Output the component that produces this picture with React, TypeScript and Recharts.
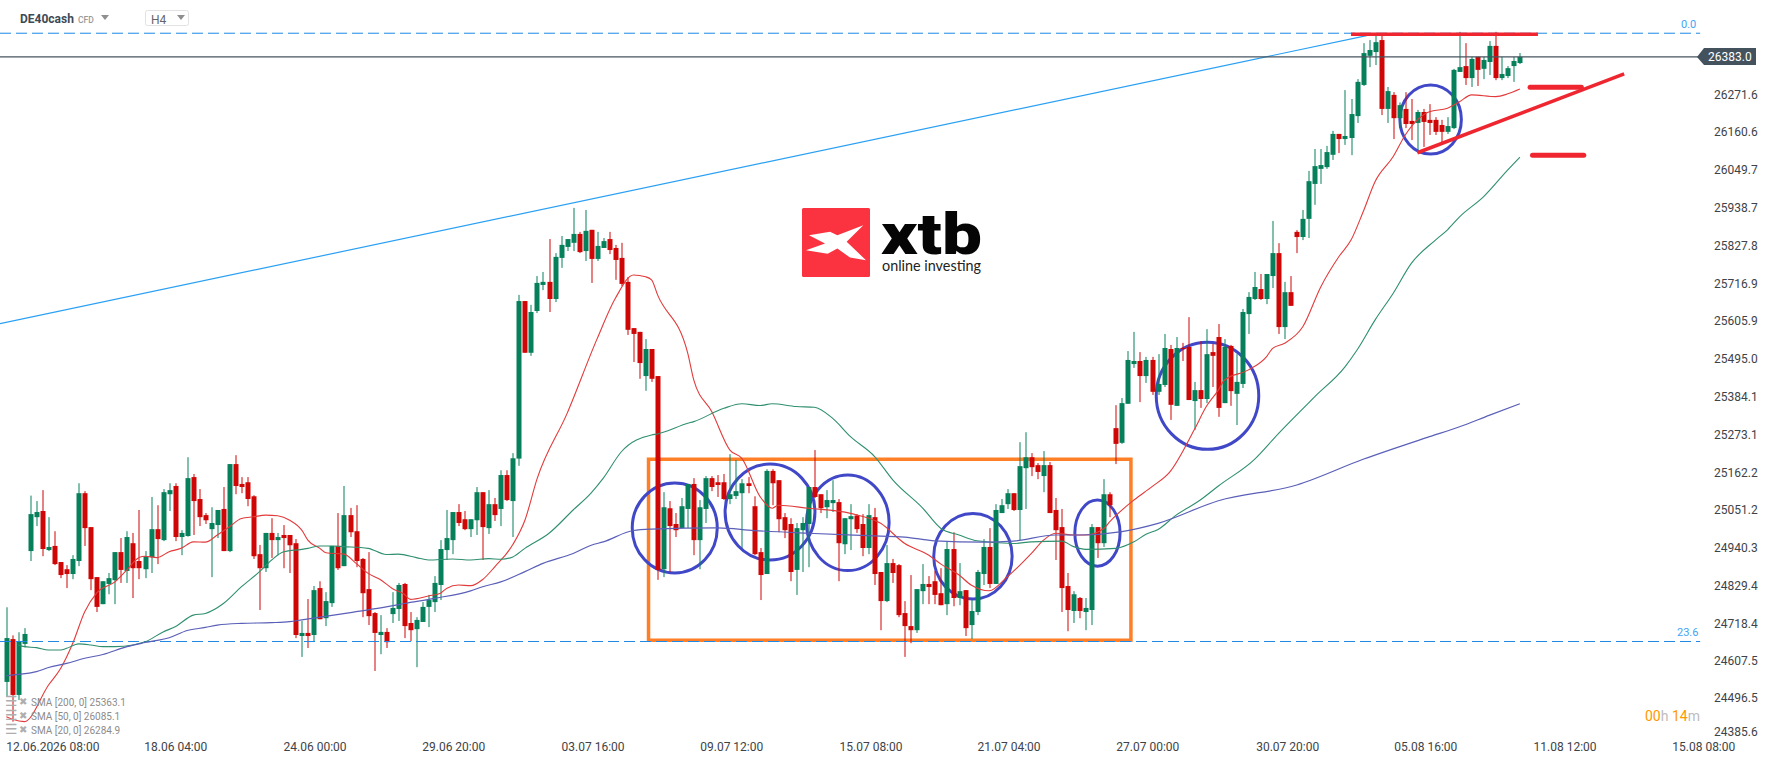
import {
  ComposedChart,
  Bar,
  Line,
  XAxis,
  YAxis,
  ReferenceLine,
  ReferenceArea,
} from 'recharts'

const opens = [
  24558,24683,24520,24669,24940,25039,25057,24943,24955,24908,
  24887,24873,24911,25109,25010,24864,24785,24844,24855,24937,
  24882,24963,24911,24887,24922,25004,24972,25106,25130,24981,
  24984,25156,25092,25045,25004,25016,25063,24940,25194,25136,
  25141,25100,24931,24890,24993,24972,24987,24987,24963,24692,
  24701,24695,24832,24744,24788,24955,24896,25045,24998,24917,
  24829,24759,24695,24704,24756,24771,24844,24730,24712,24733,
  24777,24791,24841,24943,24972,25054,25033,25004,25030,25112,
  25007,25077,25063,25162,25086,25210,25670,25519,25641,25717,
  25726,25676,25796,25828,25840,25866,25816,25878,25793,25825,
  25851,25825,25796,25726,25591,25580,25451,25530,25451,24887,
  25065,25019,25007,25063,25136,24972,25063,25153,25141,25141,
  25092,25101,25109,25138,25071,24937,24873,25174,25147,25039,
  25019,24885,25001,25019,25127,25106,25068,25080,25083,24960,
  25033,25044,25019,24949,25039,24879,24794,24905,24899,24759,
  24721,24709,24823,24844,24852,24817,24785,24946,24803,24826,
  24724,24762,24873,24952,24844,25051,25077,25109,25060,25182,
  25214,25191,25159,25191,25060,25010,24838,24765,24803,24762,
  24768,25010,24963,25106,25299,25256,25370,25486,25495,25451,
  25498,25405,25425,25530,25364,25533,25536,25378,25410,25384,
  25521,25565,25372,25539,25399,25428,25632,25676,25705,25676,
  25743,25810,25594,25696,25872,25857,25910,26012,26056,26061,
  26097,26158,26143,26146,26210,26301,26386,26397,26432,26231,
  26272,26204,26231,26196,26190,26222,26199,26199,26184,26164,
  26175,26339,26356,26321,26383,26348,26368,26415,26321,26327,26356,26365,
]

const highs = [
  24776,24694,24703,24715,25102,25086,25118,25039,24998,24908,
  24899,24928,25138,25115,25010,24864,24852,24876,24937,24978,
  24998,24993,25060,24940,25098,25074,25121,25138,25138,25001,
  25214,25165,25121,25051,25068,25060,25127,25194,25220,25156,
  25156,25103,24958,24993,25036,24993,25016,24987,24975,24736,
  24800,24838,24852,24820,24955,25051,25130,25066,25074,24920,
  24937,24762,24753,24715,24820,24847,24847,24762,24747,24791,
  24812,24867,24972,25060,25054,25077,25057,25033,25127,25112,
  25118,25095,25176,25176,25226,25688,25670,25659,25743,25755,
  25851,25810,25860,25851,25942,25872,25936,25878,25872,25854,
  25872,25834,25840,25740,25591,25580,25559,25530,25451,25112,
  25086,25051,25095,25136,25153,25089,25159,25159,25162,25165,
  25223,25206,25150,25156,25100,24949,25179,25179,25147,25051,
  25036,25022,25039,25127,25235,25106,25118,25147,25092,25036,
  25077,25048,25048,25077,25066,24879,24958,24917,24902,24794,
  24870,24829,24902,24867,24882,24890,24969,24995,24905,24826,
  24797,24885,24975,25007,25077,25092,25121,25109,25258,25287,
  25226,25197,25232,25200,25095,25063,24876,24823,24806,24803,
  25019,25010,25150,25112,25366,25387,25524,25580,25521,25507,
  25507,25515,25574,25542,25565,25548,25623,25434,25553,25588,
  25545,25603,25559,25542,25515,25647,25696,25755,25749,25749,
  25904,25839,25726,25743,25877,25936,26050,26114,26114,26123,
  26167,26158,26286,26260,26318,26423,26432,26444,26447,26295,
  26280,26250,26280,26260,26228,26231,26245,26207,26199,26207,
  26348,26456,26423,26383,26383,26383,26429,26456,26383,26356,26383,26394,
]

const lows = [
  24515,24442,24505,24659,24911,25013,24925,24940,24899,24861,
  24832,24858,24896,24955,24826,24762,24785,24814,24785,24847,
  24847,24803,24858,24861,24876,24902,24969,25057,24969,24928,
  24982,24987,25013,25019,24864,24978,24940,24937,25106,25109,
  25071,24917,24768,24879,24920,24928,24890,24876,24686,24631,
  24657,24677,24741,24721,24777,24885,24896,24981,24893,24747,
  24724,24590,24639,24657,24730,24736,24686,24677,24601,24733,
  24718,24762,24797,24914,24931,25013,25001,24981,24987,24914,
  24990,25028,25013,25086,24981,25189,25519,25510,25635,25702,
  25638,25667,25767,25816,25816,25810,25787,25723,25787,25825,
  25807,25732,25714,25571,25492,25443,25408,25434,24856,24864,
  24879,24981,25007,25007,24928,24887,25022,25115,25098,25089,
  25077,25092,24949,25109,24928,24797,24873,25074,24995,24978,
  24852,24812,24879,24893,25095,25051,25036,25054,24852,24931,
  24943,24993,24925,24931,24841,24709,24791,24847,24747,24631,
  24671,24701,24785,24785,24785,24782,24753,24779,24782,24692,
  24683,24753,24841,24832,24844,25051,25063,25057,24972,25063,
  25159,25150,25112,25051,24914,24762,24706,24730,24744,24709,
  24724,24920,24952,25039,25194,25253,25370,25475,25375,25431,
  25396,25396,25419,25323,25364,25495,25381,25294,25358,25372,
  25419,25332,25372,25364,25308,25416,25574,25673,25673,25661,
  25708,25574,25559,25656,25810,25848,25854,25951,26012,26056,
  26082,26102,26126,26096,26190,26298,26353,26359,26213,26190,
  26143,26175,26175,26140,26111,26120,26155,26155,26134,26158,
  26172,26339,26301,26295,26298,26318,26330,26315,26315,26321,26310,26362,
]

const closes = [
  24686,24520,24676,24698,25048,25054,24946,24952,24902,24870,
  24873,24917,25109,25007,24858,24777,24852,24861,24937,24885,
  24981,24890,24890,24925,25004,24975,25112,25118,24981,24993,
  25153,25086,25039,25030,25022,25060,24940,25194,25130,25127,
  25092,24925,24890,24993,24972,24981,24978,24957,24695,24701,
  24692,24826,24741,24794,24955,24890,25045,24995,24911,24817,
  24750,24701,24704,24674,24774,24841,24721,24709,24739,24777,
  24797,24847,24946,24978,25054,25022,25004,25033,25112,25010,
  25077,25045,25162,25089,25211,25670,25519,25638,25723,25726,
  25676,25799,25834,25851,25866,25813,25875,25793,25831,25845,
  25819,25790,25720,25586,25574,25489,25530,25443,24885,25068,
  25013,25001,25071,25136,24972,25068,25153,25127,25133,25092,
  25106,25115,25138,25130,24931,24870,25174,25138,25033,25001,
  24879,25007,25022,25127,25098,25065,25089,25089,24963,25036,
  25042,25004,24949,25045,24873,24794,24905,24876,24753,24721,
  24709,24829,24844,24835,24812,24782,24946,24803,24823,24715,
  24765,24879,24952,24844,25060,25074,25109,25060,25188,25214,
  25185,25171,25191,25051,25001,24832,24768,24814,24765,24774,
  25010,24963,25106,25074,25253,25372,25498,25495,25451,25498,
  25405,25428,25533,25367,25533,25530,25381,25410,25384,25515,
  25510,25358,25536,25407,25434,25638,25682,25711,25676,25749,
  25810,25594,25696,25656,25857,25910,26020,26064,26067,26105,
  26158,26143,26152,26216,26310,26394,26403,26426,26231,26283,
  26204,26242,26187,26187,26222,26193,26190,26164,26164,26181,
  26345,26353,26321,26377,26345,26374,26415,26321,26333,26350,26371,26383,
]

const sma20Bars = [0,1,3,7,9,11,13,15,18,20,22,23,25,27,29,31,33,35,37,39,41,43,45,47,49,50,52,53,56,58,60,62,64,66,67,70,72,73,75,77,79,81,84,86,88,93,98,101,104,106,107,108,113,114,117,120,122,125,127,128,133,140,145,149,153,155,158,160,163,166,170,172,174,177,179,182,183,187,190,193,197,199,201,202,206,209,210,212,215,218,221,223,225,227,230,232,234,236,239,241,243,247,249,251]
const sma20Values = [24456,24449,24442,24549,24597,24670,24763,24818,24850,24885,24921,24925,24921,24938,24948,24967,24966,24987,25011,25035,25040,25045,25043,25030,25001,24972,24948,24935,24931,24904,24875,24857,24831,24814,24799,24809,24817,24831,24841,24839,24857,24894,24959,25030,25150,25342,25561,25678,25746,25741,25732,25688,25518,25440,25347,25235,25210,25099,25065,25074,25065,25050,25021,24962,24928,24902,24870,24841,24824,24865,24933,24972,24992,24987,24987,25006,25026,25089,25128,25172,25294,25362,25410,25439,25469,25508,25532,25547,25595,25712,25800,25848,25930,26019,26092,26155,26199,26223,26233,26252,26272,26267,26275,26289]

const sma50Bars = [2,3,5,7,9,10,12,14,16,18,21,23,26,28,31,33,36,39,42,44,46,49,50,52,54,56,60,63,65,68,70,74,77,80,82,84,86,90,94,97,99,102,107,108,113,114,119,122,125,127,131,134,137,140,144,147,152,155,158,161,167,170,175,177,179,184,187,189,191,194,198,201,207,211,217,222,224,227,230,233,237,239,241,245,249,251]
const sma50Values = [24666,24661,24658,24651,24651,24656,24669,24666,24661,24661,24666,24675,24704,24719,24753,24758,24787,24836,24880,24914,24938,24945,24948,24955,24955,24953,24948,24930,24931,24921,24914,24917,24914,24918,24916,24923,24948,24992,25060,25110,25153,25230,25279,25282,25313,25318,25357,25370,25365,25370,25362,25360,25328,25274,25216,25148,25065,25006,24987,24970,24962,24967,24969,24953,24945,24948,24967,24989,25003,25045,25089,25130,25208,25284,25391,25478,25527,25615,25693,25780,25848,25878,25916,25975,26053,26090]

const sma200Bars = [0,2,5,7,10,13,16,20,23,27,30,33,35,39,44,47,49,54,58,63,66,71,77,79,82,86,89,94,97,99,104,107,118,124,133,143,149,154,162,167,174,178,185,191,201,214,225,236,241,246,251]
const sma200Values = [24576,24580,24588,24600,24612,24627,24638,24661,24673,24687,24708,24717,24724,24729,24731,24734,24739,24752,24763,24777,24787,24802,24824,24836,24850,24880,24904,24933,24957,24967,25000,25004,25008,25000,24992,24985,24981,24970,24966,24969,24987,24987,24997,25021,25087,25133,25208,25274,25303,25337,25370]

const xTickBars = [0, 28.1, 51.2, 74.2, 97.3, 120.3, 143.4, 166.3, 189.3, 212.5, 235.4, 258.5, 281.5]
const xTickLabels = ['12.06.2026 08:00','18.06 04:00','24.06 00:00','29.06 20:00','03.07 16:00','09.07 12:00','15.07 08:00','21.07 04:00','27.07 00:00','30.07 20:00','05.08 16:00','11.08 12:00','15.08 08:00']

const yTickValues = [26272,26164,26053,25942,25831,25720,25612,25501,25390,25279,25168,25060,24949,24838,24727,24619,24511,24412]
const yTickLabels = ['26271.6','26160.6','26049.7','25938.7','25827.8','25716.9','25605.9','25495.0','25384.1','25273.1','25162.2','25051.2','24940.3','24829.4','24718.4','24607.5','24496.5','24385.6']

// circles drawn on the chart: first bar, last bar, top price, bottom price
const circles = [
  [103.8, 117.9, 25139, 24876],
  [119.2, 134.1, 25194, 24914],
  [132.7, 146.4, 25162, 24883],
  [153.8, 166.8, 25050, 24800],
  [177.2, 184.7, 25089, 24896],
  [190.7, 207.7, 25550, 25237],
  [231.1, 241.3, 26301, 26099],
]

const legendRows = ['SMA [200, 0] 25363.1', 'SMA [50, 0] 26085.1', 'SMA [20, 0] 26284.9']

const GREEN = '#06805a'
const RED = '#cf0606'
const X_MIN = -1.05
const X_MAX = 281.87

const data = opens.map((open, i) => ({
  i,
  open,
  high: highs[i],
  low: lows[i],
  close: closes[i],
  sma20: sma20Bars.includes(i) ? sma20Values[sma20Bars.indexOf(i)] : null,
  sma50: sma50Bars.includes(i) ? sma50Values[sma50Bars.indexOf(i)] : null,
  sma200: sma200Bars.includes(i) ? sma200Values[sma200Bars.indexOf(i)] : null,
}))

function Candle(props: any) {
  const { x, y, width, height, payload } = props
  const { open, high, low, close } = payload
  const color = close >= open ? GREEN : RED
  const perUnit = Math.abs(height) / (high - low)
  const top = y + (high - Math.max(open, close)) * perUnit
  const bodyH = Math.max(Math.abs(open - close) * perUnit, 1)
  const mid = Math.round(x + width / 2)
  return (
    <g>
      <rect x={mid - 0.5} y={y} width={1} height={Math.abs(height)} fill={color} />
      <rect x={mid - 2.5} y={top} width={5} height={bodyH} fill={color} />
    </g>
  )
}

function XTick(props: any) {
  const { x, y, payload, index } = props
  return (
    <text x={x} y={y + 8} fontSize={12} fill="#3d4348" textAnchor={index === 0 ? 'start' : 'middle'}>
      {xTickLabels[xTickBars.indexOf(payload.value)]}
    </text>
  )
}

function Overlay() {
  return (
    <svg
      width={1768}
      height={761}
      style={{ position: 'absolute', left: 0, top: 0, pointerEvents: 'none' }}
      fontFamily="Roboto"
    >
      <text x={20} y={23} fontSize={12} fontWeight={700} fill="#3c4a56">DE40cash</text>
      <text x={78} y={22.5} fontSize={8.5} fontWeight={500} fill="#9a9a9a">CFD</text>
      <polygon points="101,15 109,15 105,20" fill="#8f8f8f" />
      <rect x={145.5} y={10.5} width={43} height={15} rx={2} fill="#fff" stroke="#e2e2e2" />
      <text x={151} y={24} fontSize={12} fill="#666">H4</text>
      <polygon points="177,15 185,15 181,20" fill="#8f8f8f" />

      <text x={1681} y={28} fontSize={11} fill="#42a5f5">0.0</text>
      <text x={1677} y={636} fontSize={11} fill="#42a5f5">23.6</text>

      <polygon points="1697,57 1704,48 1756,48 1756,65 1704,65" fill="#44525e" />
      <text x={1708} y={61} fontSize={12} fill="#fff">26383.0</text>

      {legendRows.map((row, k) => (
        <g key={row} fill="#8c8c8c">
          <text x={5} y={706 + k * 14} fontSize={14} fontFamily="DejaVu Sans" fill="#aeaeae">☰</text>
          <text x={19} y={705 + k * 14} fontSize={10} fontFamily="DejaVu Sans" fill="#aeaeae">✖</text>
          <text x={31} y={705.5 + k * 14} fontSize={10}>{row}</text>
        </g>
      ))}

      <text x={1645} y={721} fontSize={14}>
        <tspan fill="#ff9800">00</tspan>
        <tspan fill="#bdbdbd">h </tspan>
        <tspan fill="#ff9800">14</tspan>
        <tspan fill="#bdbdbd">m</tspan>
      </text>

      <rect x={802} y={208} width={68} height={69} rx={1.5} fill="#fb3340" />
      <svg x={802} y={208} width={68} height={69} viewBox="906 84 204 206">
        <polygon
          points="927,165 990,155 1012,165 1090,135 1040,185 1098,240 1050,232 1012,205 983,221 918,210 975,190"
          fill="#fff"
        />
      </svg>
      <text x={881} y={254} fontSize={57} fontWeight={900} fill="#050505" textLength={101} lengthAdjust="spacingAndGlyphs">xtb</text>
      <text x={882} y={271} fontSize={14.5} fontFamily="Lato" fill="#222" textLength={99} lengthAdjust="spacingAndGlyphs">online investing</text>
    </svg>
  )
}

export default function App() {
  return (
    <div style={{ position: 'absolute', left: 0, top: 0, width: 1768, height: 761, background: '#fff', fontFamily: 'Roboto' }}>
      <ComposedChart width={1768} height={761} data={data} margin={{ top: 0, right: 0, bottom: 0, left: 0 }}>
        <XAxis
          dataKey="i"
          type="number"
          domain={[X_MIN, X_MAX]}
          ticks={xTickBars}
          interval={0}
          tick={<XTick />}
          tickLine={false}
          axisLine={false}
          height={26}
          allowDataOverflow
        />
        <YAxis
          orientation="right"
          type="number"
          domain={[24403, 26549]}
          ticks={yTickValues}
          interval={0}
          tickFormatter={(v) => yTickLabels[yTickValues.indexOf(v)]}
          tick={{ fill: '#3d4348', fontSize: 12 }}
          tickLine={false}
          axisLine={false}
          tickMargin={2}
          width={62}
          allowDataOverflow
        />
        <ReferenceLine segment={[{ x: X_MIN, y: 26452 }, { x: 280.9, y: 26452 }]} stroke="#1e88e5" strokeWidth={1} strokeDasharray="11 5" />
        <ReferenceLine segment={[{ x: X_MIN, y: 24676 }, { x: 280.9, y: 24676 }]} stroke="#1e88e5" strokeWidth={1} strokeDasharray="11 5" />
        <ReferenceLine segment={[{ x: X_MIN, y: 25604 }, { x: 225.6, y: 26445 }]} stroke="#2aa0f5" strokeWidth={1.2} />
        <ReferenceLine segment={[{ x: X_MIN, y: 26383 }, { x: 280.9, y: 26383 }]} stroke="#46545f" strokeWidth={1.2} />
        <Bar dataKey={(d: any) => [d.low, d.high]} shape={<Candle />} barSize={5} isAnimationActive={false} />
        <Line type="monotone" dataKey="sma20" stroke="#e23b3b" strokeWidth={1.1} dot={false} activeDot={false} connectNulls isAnimationActive={false} />
        <Line type="monotone" dataKey="sma50" stroke="#2f8f6f" strokeWidth={1.1} dot={false} activeDot={false} connectNulls isAnimationActive={false} />
        <Line type="monotone" dataKey="sma200" stroke="#5a5fb8" strokeWidth={1.2} dot={false} activeDot={false} connectNulls isAnimationActive={false} />
        <ReferenceArea x1={106.5} x2={186.5} y1={24679.5} y2={25208} fill="none" stroke="#ff7f27" strokeWidth={3.5} ifOverflow="visible" />
        {circles.map(([x1, x2, top, bottom]) => (
          <ReferenceArea
            key={x1}
            x1={x1}
            x2={x2}
            y1={bottom}
            y2={top}
            ifOverflow="visible"
            shape={(p: any) => (
              <ellipse cx={p.x + p.width / 2} cy={p.y + p.height / 2} rx={p.width / 2} ry={p.height / 2} fill="none" stroke="#4048c8" strokeWidth={3} />
            )}
          />
        ))}
        <ReferenceLine segment={[{ x: 223, y: 26449 }, { x: 254, y: 26449 }]} stroke="#ef2630" strokeWidth={3.5} />
        <ReferenceLine segment={[{ x: 234, y: 26103 }, { x: 268.3, y: 26333 }]} stroke="#ef2630" strokeWidth={3.5} />
        <ReferenceLine segment={[{ x: 252.7, y: 26294 }, { x: 261.2, y: 26294 }]} stroke="#ef2630" strokeWidth={5} strokeLinecap="round" />
        <ReferenceLine segment={[{ x: 253.1, y: 26096 }, { x: 261.6, y: 26096 }]} stroke="#ef2630" strokeWidth={5} strokeLinecap="round" />
      </ComposedChart>
      <Overlay />
    </div>
  )
}
